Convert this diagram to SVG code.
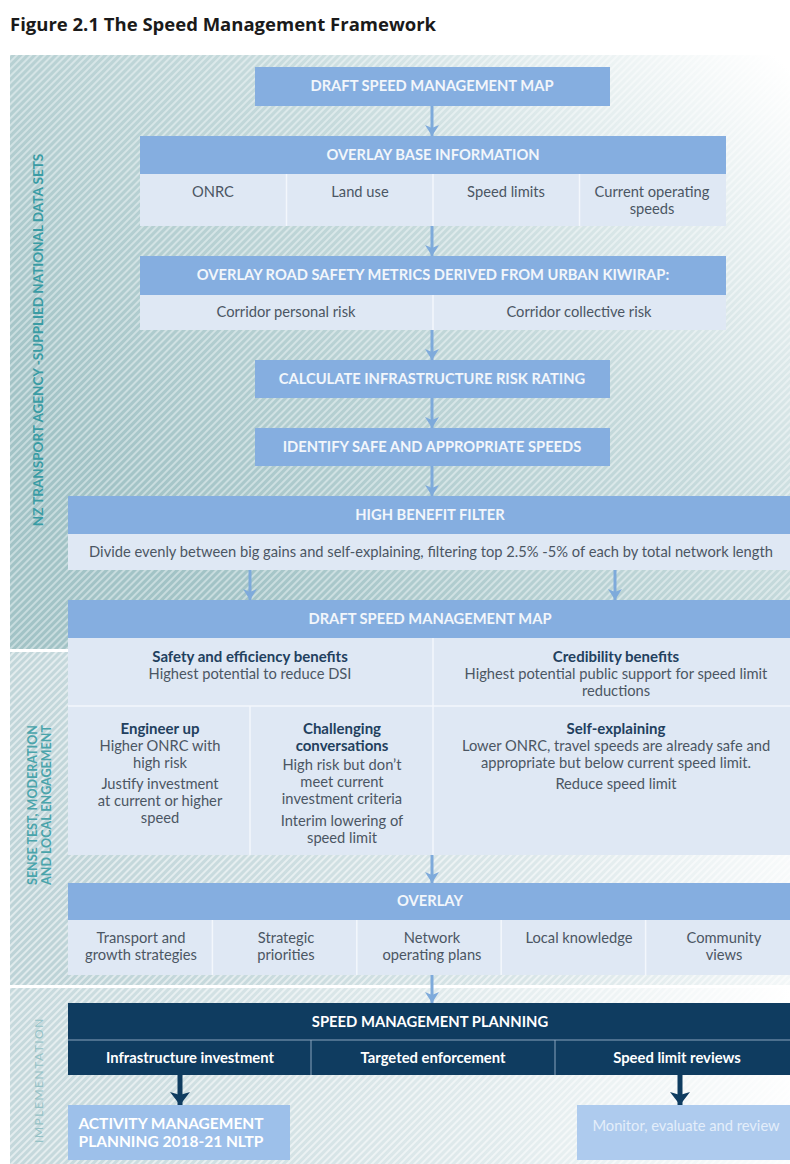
<svg xmlns="http://www.w3.org/2000/svg" width="790" height="1164" viewBox="0 0 790 1164">
<style>
.title{font-family:"Open Sans","Liberation Sans",sans-serif;font-weight:700;font-size:18.5px;fill:#1a1a1a}
.hd{font-family:Lato,"Liberation Sans",sans-serif;font-weight:700;font-size:14.7px;fill:#f2f6fb;text-anchor:middle}
.tx{font-family:Lato,"Liberation Sans",sans-serif;font-size:14.7px;fill:#4b5663;text-anchor:middle}
.sb{font-family:Lato,"Liberation Sans",sans-serif;font-weight:700;font-size:15px;fill:#22405e;text-anchor:middle}
.wt{font-family:Lato,"Liberation Sans",sans-serif;font-weight:700;font-size:14.8px;fill:#ffffff;text-anchor:middle}
.side{font-family:Lato,"Liberation Sans",sans-serif;font-weight:700;font-size:13.5px;fill:#3a9ca4;text-anchor:middle}
.side2{font-family:Lato,"Liberation Sans",sans-serif;font-weight:700;font-size:12.5px;fill:#4aa4ab;text-anchor:middle}
.impl{font-family:Lato,"Liberation Sans",sans-serif;font-size:12px;fill:#95c2c6;text-anchor:middle;letter-spacing:1.5px}
.head{fill:#85aee0}
.sub{fill:#dfe8f4}
.navy{fill:#0f3c60}
.div{stroke:#f3f7fc;stroke-width:1.5}
.ndiv{stroke:#8aa3bc;stroke-width:1}
.arr{stroke:#7eaadb;stroke-width:3;fill:none;marker-end:url(#ah)}
.darr{stroke:#0f3c60;stroke-width:5;fill:none;marker-end:url(#dh)}
</style>
<defs>
<pattern id="hatchA" patternUnits="userSpaceOnUse" width="5" height="5" patternTransform="rotate(45)">
<rect width="5" height="5" fill="#a2c3c6"/>
<rect width="2" height="5" fill="#c8dcde"/>
</pattern>
<pattern id="hatchB" patternUnits="userSpaceOnUse" width="5" height="5" patternTransform="rotate(45)">
<rect width="5" height="5" fill="#bdd3d7"/>
<rect width="2" height="5" fill="#e0eaec"/>
</pattern>
<linearGradient id="fadeTop" gradientUnits="userSpaceOnUse" x1="250" y1="620" x2="780" y2="60">
<stop offset="0" stop-color="#fff" stop-opacity="0"/>
<stop offset="0.55" stop-color="#fff" stop-opacity="0.4"/>
<stop offset="1" stop-color="#fff" stop-opacity="1"/>
</linearGradient>
<linearGradient id="fadeMid" gradientUnits="userSpaceOnUse" x1="60" y1="985" x2="790" y2="700">
<stop offset="0" stop-color="#fff" stop-opacity="0"/>
<stop offset="0.6" stop-color="#fff" stop-opacity="0.45"/>
<stop offset="1" stop-color="#fff" stop-opacity="1"/>
</linearGradient>
<linearGradient id="fadeBot" gradientUnits="userSpaceOnUse" x1="10" y1="1164" x2="790" y2="990">
<stop offset="0" stop-color="#fff" stop-opacity="0.1"/>
<stop offset="0.6" stop-color="#fff" stop-opacity="0.55"/>
<stop offset="1" stop-color="#fff" stop-opacity="1"/>
</linearGradient>
<marker id="ah" markerUnits="userSpaceOnUse" markerWidth="16" markerHeight="16" viewBox="0 -8 12 16" refX="11" refY="0" orient="auto">
<path d="M0,-7 L11,0 L0,7 L3,0 z" fill="#7eaadb"/>
</marker>
<marker id="dh" markerUnits="userSpaceOnUse" markerWidth="22" markerHeight="22" viewBox="0 -11 14 22" refX="13" refY="0" orient="auto">
<path d="M0,-10 L13,0 L0,10 L3,0 z" fill="#0f3c60"/>
</marker>
</defs>

<rect width="790" height="1164" fill="#ffffff"/>
<text class="title" x="10" y="31">Figure 2.1 The Speed Management Framework</text>

<g id="background">
<rect x="10" y="55" width="780" height="594" fill="url(#hatchA)"/>
<rect x="10" y="55" width="780" height="594" fill="url(#fadeTop)"/>
<rect x="10" y="652" width="780" height="333" fill="url(#hatchB)"/>
<rect x="10" y="652" width="780" height="333" fill="url(#fadeMid)"/>
<rect x="10" y="988" width="780" height="176" fill="url(#hatchB)"/>
<rect x="10" y="988" width="780" height="176" fill="url(#fadeBot)"/>
<rect x="10" y="649" width="780" height="3" fill="#ffffff"/>
<rect x="10" y="985" width="780" height="3" fill="#ffffff"/>
</g>

<g id="side-labels">
<text class="side" transform="translate(43,340) rotate(-90)">NZ TRANSPORT AGENCY -SUPPLIED NATIONAL DATA SETS</text>
<text class="side2" transform="translate(37,805) rotate(-90)">SENSE TEST, MODERATION</text>
<text class="side2" transform="translate(51,805) rotate(-90)">AND LOCAL ENGAGEMENT</text>
<text class="impl" transform="translate(43,1080) rotate(-90)">IMPLEMENTATION</text>
</g>

<g id="connectors">
<line class="arr" x1="432" y1="106" x2="432" y2="136"/>
<line class="arr" x1="432" y1="226" x2="432" y2="256"/>
<line class="arr" x1="432" y1="330" x2="432" y2="360"/>
<line class="arr" x1="432" y1="398" x2="432" y2="428"/>
<line class="arr" x1="432" y1="466" x2="432" y2="496"/>
<line class="arr" x1="250" y1="570" x2="250" y2="600"/>
<line class="arr" x1="615" y1="570" x2="615" y2="600"/>
<line class="arr" x1="432" y1="855" x2="432" y2="883"/>
<line class="arr" x1="432" y1="975" x2="432" y2="1003"/>
<line class="darr" x1="180" y1="1075" x2="180" y2="1105"/>
<line class="darr" x1="680" y1="1075" x2="680" y2="1105"/>
</g>

<g id="draft-map-1">
<rect class="head" x="255" y="67" width="355" height="39"/>
<text class="hd" x="432" y="91">DRAFT SPEED MANAGEMENT MAP</text>
</g>

<g id="overlay-base">
<rect class="head" x="140" y="136" width="586" height="38"/>
<text class="hd" x="433" y="160">OVERLAY BASE INFORMATION</text>
<rect class="sub" x="140" y="174" width="586" height="52"/>
<line class="div" x1="286.5" y1="174" x2="286.5" y2="226"/>
<line class="div" x1="433" y1="174" x2="433" y2="226"/>
<line class="div" x1="579.5" y1="174" x2="579.5" y2="226"/>
<text class="tx" x="213" y="197">ONRC</text>
<text class="tx" x="360" y="197">Land use</text>
<text class="tx" x="506" y="197">Speed limits</text>
<text class="tx" x="652" y="197">Current operating</text>
<text class="tx" x="652" y="214">speeds</text>
</g>

<g id="overlay-safety">
<rect class="head" x="140" y="256" width="586" height="39"/>
<text class="hd" x="433" y="280">OVERLAY ROAD SAFETY METRICS DERIVED FROM URBAN KIWIRAP:</text>
<rect class="sub" x="140" y="295" width="586" height="35"/>
<line class="div" x1="433" y1="295" x2="433" y2="330"/>
<text class="tx" x="286" y="317">Corridor personal risk</text>
<text class="tx" x="579" y="317">Corridor collective risk</text>
</g>

<g id="calc-risk">
<rect class="head" x="255" y="360" width="355" height="38"/>
<text class="hd" x="432" y="384">CALCULATE INFRASTRUCTURE RISK RATING</text>
</g>

<g id="identify-speeds">
<rect class="head" x="255" y="428" width="355" height="38"/>
<text class="hd" x="432" y="452">IDENTIFY SAFE AND APPROPRIATE SPEEDS</text>
</g>

<g id="high-benefit">
<rect class="head" x="68" y="496" width="722" height="38"/>
<text class="hd" x="430" y="520">HIGH BENEFIT FILTER</text>
<rect class="sub" x="68" y="534" width="722" height="36"/>
<text class="tx" x="431" y="557">Divide evenly between big gains and self-explaining, filtering top 2.5% -5% of each by total network length</text>
</g>

<g id="draft-map-2">
<rect class="head" x="68" y="600" width="722" height="38"/>
<text class="hd" x="430" y="624">DRAFT SPEED MANAGEMENT MAP</text>
<rect class="sub" x="68" y="638" width="722" height="217"/>
<line class="div" x1="68" y1="706" x2="790" y2="706"/>
<line class="div" x1="433" y1="638" x2="433" y2="855"/>
<line class="div" x1="250" y1="706" x2="250" y2="855"/>
<text class="sb" x="250" y="662">Safety and efficiency benefits</text>
<text class="tx" x="250" y="679">Highest potential to reduce DSI</text>
<text class="sb" x="616" y="662">Credibility benefits</text>
<text class="tx" x="616" y="679">Highest potential public support for speed limit</text>
<text class="tx" x="616" y="696">reductions</text>
<text class="sb" x="160" y="734">Engineer up</text>
<text class="tx" x="160" y="751">Higher ONRC with</text>
<text class="tx" x="160" y="768">high risk</text>
<text class="tx" x="160" y="789">Justify investment</text>
<text class="tx" x="160" y="806">at current or higher</text>
<text class="tx" x="160" y="823">speed</text>
<text class="sb" x="342" y="734">Challenging</text>
<text class="sb" x="342" y="751">conversations</text>
<text class="tx" x="342" y="770">High risk but don’t</text>
<text class="tx" x="342" y="787">meet current</text>
<text class="tx" x="342" y="804">investment criteria</text>
<text class="tx" x="342" y="826">Interim lowering of</text>
<text class="tx" x="342" y="843">speed limit</text>
<text class="sb" x="616" y="734">Self-explaining</text>
<text class="tx" x="616" y="751">Lower ONRC, travel speeds are already safe and</text>
<text class="tx" x="616" y="768">appropriate but below current speed limit.</text>
<text class="tx" x="616" y="789">Reduce speed limit</text>
</g>

<g id="overlay-local">
<rect class="head" x="68" y="883" width="722" height="37"/>
<text class="hd" x="430" y="906">OVERLAY</text>
<rect class="sub" x="68" y="920" width="722" height="55"/>
<line class="div" x1="212.4" y1="920" x2="212.4" y2="975"/>
<line class="div" x1="356.8" y1="920" x2="356.8" y2="975"/>
<line class="div" x1="501.2" y1="920" x2="501.2" y2="975"/>
<line class="div" x1="645.6" y1="920" x2="645.6" y2="975"/>
<text class="tx" x="141" y="943">Transport and</text>
<text class="tx" x="141" y="960">growth strategies</text>
<text class="tx" x="286" y="943">Strategic</text>
<text class="tx" x="286" y="960">priorities</text>
<text class="tx" x="432" y="943">Network</text>
<text class="tx" x="432" y="960">operating plans</text>
<text class="tx" x="579" y="943">Local knowledge</text>
<text class="tx" x="724" y="943">Community</text>
<text class="tx" x="724" y="960">views</text>
</g>

<g id="speed-planning">
<rect class="navy" x="68" y="1003" width="722" height="72"/>
<line class="ndiv" x1="68" y1="1040" x2="790" y2="1040"/>
<line class="ndiv" x1="311" y1="1040" x2="311" y2="1075"/>
<line class="ndiv" x1="555" y1="1040" x2="555" y2="1075"/>
<text class="wt" x="430" y="1027">SPEED MANAGEMENT PLANNING</text>
<text class="wt" x="190" y="1063">Infrastructure investment</text>
<text class="wt" x="433" y="1063">Targeted enforcement</text>
<text class="wt" x="677" y="1063">Speed limit reviews</text>
</g>

<g id="activity-planning">
<rect x="68" y="1105" width="222" height="55" fill="#9dc0ea"/>
<text class="wt" x="171" y="1129" style="font-size:15.5px">ACTIVITY MANAGEMENT</text>
<text class="wt" x="171" y="1147" style="font-size:15.5px">PLANNING 2018-21 NLTP</text>
</g>

<g id="monitor">
<rect x="577" y="1105" width="213" height="55" fill="#aecbee"/>
<text class="tx" x="686" y="1131" style="fill:#e4eefa">Monitor, evaluate and review</text>
</g>
</svg>
